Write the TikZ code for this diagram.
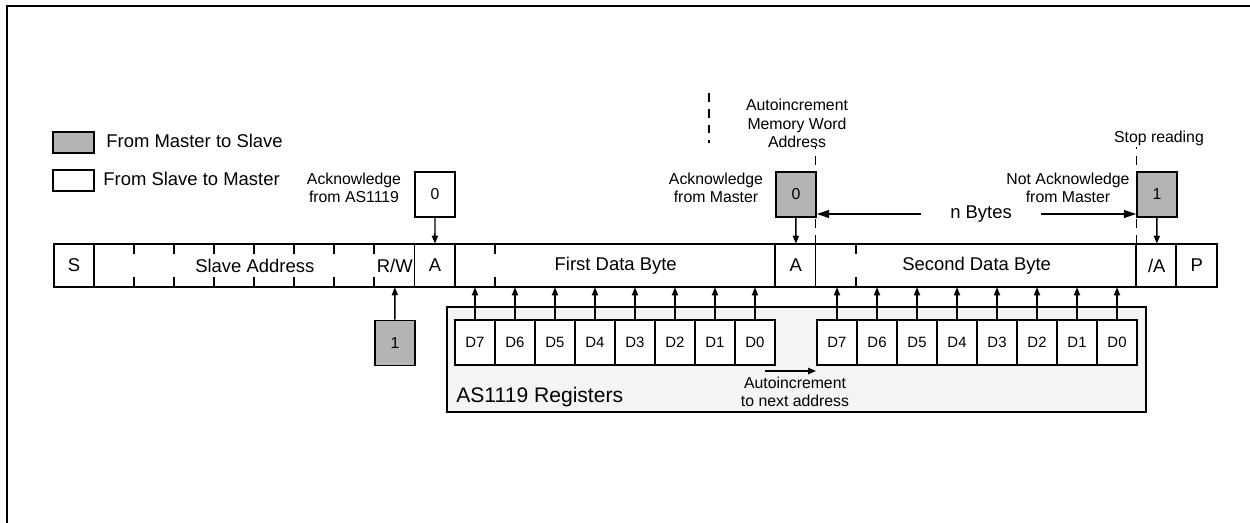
\documentclass[tikz,border=0pt]{standalone}
\usepackage{fontspec}
\setmainfont{Liberation Sans}
\usetikzlibrary{arrows.meta}
\definecolor{mastergray}{RGB}{180,180,180}
\definecolor{regpanel}{RGB}{244,244,244}

\begin{document}
\begin{tikzpicture}[x=0.02cm,y=-0.02cm,
    >={Triangle[length=4.5pt,width=3.5pt]},
    bitcell/.style={minimum width=0.802cm,minimum height=0.86cm,inner sep=0pt,font=\fontsize{10.5}{12}\selectfont},
    flagbox/.style={draw,line width=1pt,minimum width=0.8cm,minimum height=0.9cm,inner sep=0pt,font=\fontsize{9}{11}\selectfont},
    master/.style={flagbox,fill=mastergray},
    slave/.style={flagbox,fill=white},
    regcell/.style={draw,line width=1pt,fill=white,minimum width=0.8cm,minimum height=0.9cm,inner sep=0pt,font=\fontsize{8.5}{10}\selectfont},
    note/.style={align=center,inner sep=0pt,font=\fontsize{9}{10.6}\selectfont}]

\useasboundingbox (0,0) rectangle (1250,523);
\draw[line width=1.7pt] (7,540) -- (7,6) -- (1260,6);

% legend
\node[master,minimum width=0.82cm,minimum height=0.42cm] (legM) at (73.5,142.5) {};
\node[slave,minimum width=0.82cm,minimum height=0.42cm] (legS) at (73.5,180.5) {};
\node[anchor=west,inner sep=0pt,font=\fontsize{10.5}{12}\selectfont] (legMt) at (106,141) {From Master to Slave};
\node[anchor=west,inner sep=0pt,font=\fontsize{10.5}{12}\selectfont] (legSt) at (103,179) {From Slave to Master};

% the bit frame
\foreach \i in {0,...,28}
    \node[bitcell] (c\i) at ({74+40.1*\i},265.5) {};
\draw[line width=1.1pt] (c0.north west) rectangle (c28.south east);
\foreach \b in {1,9,10,18,19,27,28}
    \draw[line width=1.1pt] (c\b.north west) -- (c\b.south west);
\foreach \b in {2,...,8,11,...,17,20,...,26}
    \draw[line width=1.1pt] (c\b.north west) -- ++(0,10) (c\b.south west) -- ++(0,-10);

\node[bitcell] (tS) at (c0) {S};
\node[bitcell] (tAddr) at (c4.east) {Slave Address};
\node[bitcell] (tRW) at (c8) {R/W};
\node[bitcell] (tA1) at (c9) {A};
\node[bitcell] (tByte1) at (c13.east) {First Data Byte};
\node[bitcell] (tA2) at (c18) {A};
\node[bitcell] (tByte2) at (c22.east) {Second Data Byte};
\node[bitcell] (tNA) at (c27) {/A};
\node[bitcell] (tP) at (c28) {P};

% acknowledge bits
\node[slave] (ack1) at (435,194.5) {0};
\node[master] (ack2) at (796,194.5) {0};
\node[master] (nack) at (1157,194.5) {1};
\node[master] (rwbit) at (395,343) {1};
\draw[->,line width=0.8pt] (ack1) -- (c9);
\draw[->,line width=0.8pt] (ack2) -- (c18);
\draw[->,line width=0.8pt] (nack) -- (c27);
\draw[->,line width=0.8pt] (rwbit) -- (c8);

\node[note] (ack1t) at (354,188) {Acknowledge\\from AS1119};
\node[note] (ack2t) at (716,188) {Acknowledge\\from Master};
\node[note] (nackt) at (1068,188) {Not Acknowledge\\from Master};
\node[note] (autot) at (797,123.5) {Autoincrement\\Memory Word\\Address};
\node[note] (stopt) at (1159,138) {Stop reading};

\draw[line width=0.9pt,dash pattern=on 5pt off 4pt] (c19.north west) -- ++(0,-97);
\draw[line width=0.9pt,dash pattern=on 5pt off 4pt] (c27.north west) -- ++(0,-97);
\draw[line width=0.9pt,dash pattern=on 5pt off 4pt] (709,93) -- (709,143);

\node[inner sep=0pt,minimum width=2.4cm,font=\fontsize{10.5}{12}\selectfont] (nbytes) at (981,214) {n Bytes};
\draw[-{Triangle[length=7pt,width=4.5pt]},line width=0.9pt] (nbytes) -- (nbytes -| ack2.east);
\draw[-{Triangle[length=7pt,width=4.5pt]},line width=0.9pt] (nbytes) -- (nbytes -| nack.west);

% registers
\node[draw,line width=1pt,fill=regpanel,minimum width=13.98cm,minimum height=2.1cm] (regs) at (796.5,359.5) {};
\foreach \t [count=\k from 0] in {D7,D6,D5,D4,D3,D2,D1,D0} {
    \node[regcell] (ra\k) at ({475+40*\k},342.5) {\t};
    \node[regcell] (rb\k) at ({837+40*\k},342.5) {\t};
    \draw[->,line width=0.8pt] (ra\k) -- (ra\k |- c10.south);
    \draw[->,line width=0.8pt] (rb\k) -- (rb\k |- c10.south);
}
\node[anchor=west,inner sep=0pt,font=\fontsize{12}{14}\selectfont] (regt) at (456,397) {AS1119 Registers};
\node[note] (inct) at (795,392) {Autoincrement\\to next address};
\coordinate (incs) at (765,371);
\draw[->,line width=0.8pt] (incs) -- (incs -| rb0.west);
\end{tikzpicture}
\end{document}
